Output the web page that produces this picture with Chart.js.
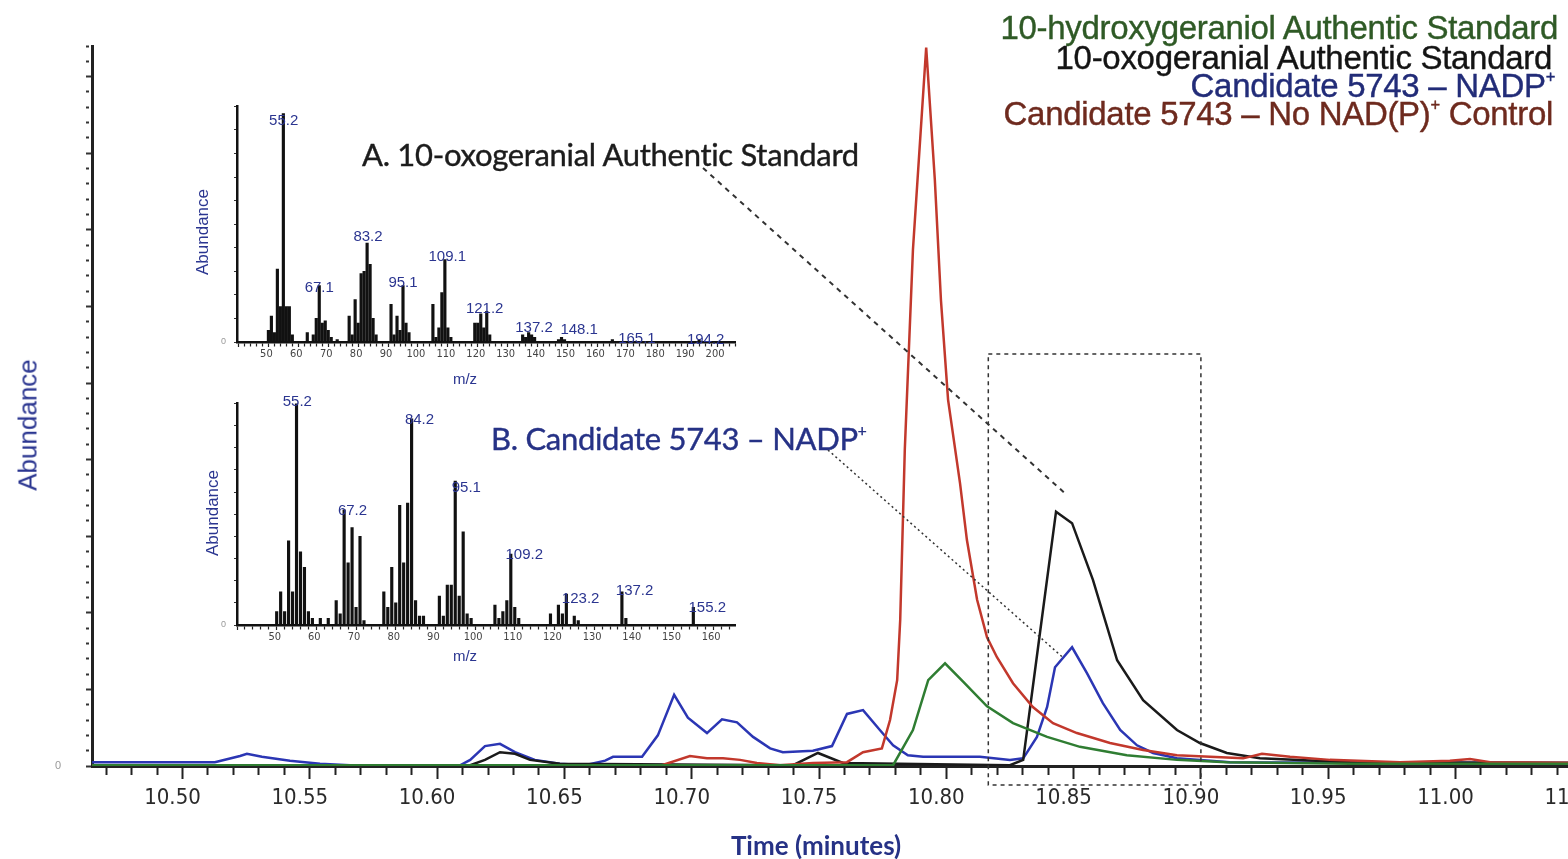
<!DOCTYPE html>
<html>
<head>
<meta charset="utf-8">
<script src="https://cdn.jsdelivr.net/npm/chart.js@4.4.1/dist/chart.umd.min.js"></script>
<style>
  html, body { margin: 0; padding: 0; background: #fff; overflow: hidden; }
  #wrap { position: relative; width: 1568px; height: 859px; overflow: hidden; background: #fff; }
  canvas { position: absolute; }
  .t { position: absolute; white-space: nowrap; line-height: 1; }
  .c { transform: translate(-50%, -50%); }
  .l { transform: translateY(-50%); }
  .r { transform: translate(-100%, -50%); }
  .rot { transform: translate(-50%, -50%) rotate(-90deg); }
  .legend { font-family: "Liberation Sans", Arial, sans-serif; font-size: 33px; letter-spacing: -0.3px; -webkit-text-stroke: 0.4px; }
  .note { font-family: Lato, sans-serif; font-size: 31px; letter-spacing: -0.3px; -webkit-text-stroke: 0.4px; }
  sup { font-size: 0.5em; vertical-align: 0.85em; }
</style>
</head>
<body>
<div id="wrap">
  <canvas id="main" width="1620" height="859" style="left:0;top:0"></canvas>
  <canvas id="specA" width="575" height="300" style="left:180px;top:93px"></canvas>
  <canvas id="specB" width="575" height="280" style="left:180px;top:390px"></canvas>

  <div class="t r legend" style="left:1558px;top:27px;color:#2f5a26">10-hydroxygeraniol Authentic Standard</div>
  <div class="t r legend" style="left:1552px;top:57px;color:#141414">10-oxogeranial Authentic Standard</div>
  <div class="t r legend" style="left:1555px;top:85px;color:#222c78">Candidate 5743 – NADP<sup>+</sup></div>
  <div class="t r legend" style="left:1553px;top:113px;color:#6e2a1e">Candidate 5743 – No NAD(P)<sup>+</sup> Control</div>

  <div class="t l note" style="left:362px;top:154px;color:#1c1c1c">A. 10-oxogeranial Authentic Standard</div>
  <div class="t l note" style="left:491px;top:438px;color:#263286">B. Candidate 5743 – NADP<sup>+</sup></div>

  <div class="t rot" style="left:28px;top:425px;font:26px 'Liberation Sans', Arial, sans-serif;color:#2a3590">Abundance</div>
  <div class="t c" style="left:816px;top:845px;font:bold 26px Lato, sans-serif;color:#263286">Time (minutes)</div>

  <div class="t rot" style="left:203px;top:232px;font:17px 'Liberation Sans', Arial, sans-serif;color:#2a3590">Abundance</div>
  <div class="t rot" style="left:213px;top:513px;font:17px 'Liberation Sans', Arial, sans-serif;color:#2a3590">Abundance</div>
  <div class="t c" style="left:465px;top:378px;font:15px 'Liberation Sans', Arial, sans-serif;color:#2a3590">m/z</div>
  <div class="t c" style="left:465px;top:655px;font:15px 'Liberation Sans', Arial, sans-serif;color:#2a3590">m/z</div>
</div>

<script>
// chromatograms (time in minutes, abundance in arbitrary units)
const greenTime = [10.4645, 10.7791, 10.7869, 10.7929, 10.7995, 10.8066, 10.816, 10.8262, 10.8396, 10.8525, 10.8709, 10.8906, 10.9102, 10.9585, 11.0568];
const greenAbund = [0.01, 0.01, 0.47, 1.12, 1.34, 1.10, 0.78, 0.56, 0.38, 0.25, 0.14, 0.08, 0.05, 0.03, 0.03];

const blackTime = [10.4645, 10.613, 10.6188, 10.6247, 10.6306, 10.6365, 10.6482, 10.7398, 10.7496, 10.7594, 10.825, 10.8302, 10.8368, 10.8431, 10.8494, 10.8576, 10.8671, 10.8773, 10.8906, 10.8996, 10.9102, 10.9232, 10.9585, 11.0568];
const blackAbund = [0.01, 0.01, 0.08, 0.18, 0.16, 0.08, 0.03, 0.01, 0.17, 0.04, 0.01, 0.08, 1.74, 3.32, 3.17, 2.43, 1.38, 0.86, 0.47, 0.30, 0.17, 0.10, 0.05, 0.04];

const blueTime = [10.4645, 10.5127, 10.5226, 10.5253, 10.5312, 10.5422, 10.554, 10.5658, 10.609, 10.613, 10.6188, 10.6247, 10.6306, 10.6384, 10.6482, 10.6581, 10.666, 10.6691, 10.6805, 10.6867, 10.6931, 10.6985, 10.706, 10.7119, 10.7178, 10.7241, 10.7308, 10.7358, 10.7476, 10.7551, 10.761, 10.7673, 10.7739, 10.7791, 10.7849, 10.7909, 10.8132, 10.825, 10.8302, 10.8356, 10.8396, 10.8427, 10.8494, 10.8553, 10.8615, 10.8683, 10.8749, 10.8812, 10.8906, 10.9114, 11.0568];
const blueAbund = [0.05, 0.05, 0.13, 0.16, 0.12, 0.07, 0.03, 0.01, 0.01, 0.08, 0.26, 0.29, 0.18, 0.08, 0.03, 0.01, 0.07, 0.12, 0.12, 0.40, 0.93, 0.63, 0.43, 0.61, 0.57, 0.38, 0.23, 0.18, 0.20, 0.26, 0.68, 0.73, 0.47, 0.27, 0.14, 0.12, 0.12, 0.08, 0.10, 0.38, 0.77, 1.29, 1.55, 1.21, 0.82, 0.47, 0.27, 0.17, 0.10, 0.05, 0.04];

const redTime = [10.4645, 10.6883, 10.6993, 10.706, 10.7123, 10.719, 10.7256, 10.7347, 10.7476, 10.761, 10.7673, 10.7747, 10.7779, 10.7807, 10.7819, 10.7837, 10.7869, 10.7921, 10.7955, 10.7979, 10.8007, 10.8054, 10.8081, 10.8121, 10.816, 10.8199, 10.8262, 10.834, 10.8419, 10.8513, 10.8643, 10.8773, 10.8906, 10.9036, 10.9166, 10.924, 10.935, 10.9507, 10.9782, 10.9978, 11.0057, 11.0136, 11.0568];
const redAbund = [0.01, 0.01, 0.13, 0.10, 0.10, 0.08, 0.04, 0.01, 0.04, 0.05, 0.18, 0.23, 0.60, 1.12, 1.91, 4.13, 6.74, 9.38, 7.65, 6.08, 4.78, 3.69, 2.95, 2.17, 1.68, 1.42, 1.08, 0.77, 0.56, 0.43, 0.30, 0.21, 0.14, 0.12, 0.10, 0.16, 0.12, 0.08, 0.05, 0.07, 0.09, 0.05, 0.04];

// mass spectra (m/z, relative abundance %)
const specAmz = [50, 51, 52, 53, 54, 55, 56, 57, 58, 63, 65, 66, 67, 68, 69, 70, 71, 73, 77, 78, 79, 80, 81, 82, 83, 84, 85, 86, 91, 92, 93, 94, 95, 96, 97, 105, 106, 107, 108, 109, 110, 111, 119, 120, 121, 122, 123, 124, 135, 136, 137, 138, 139, 147, 148, 149, 165, 194];
const specAabund = [5, 11, 4, 31, 15, 97, 15, 15, 3, 4, 3, 10, 24, 8, 9, 5, 2, 1, 11, 3, 18, 8, 29, 30, 42, 33, 10, 3, 16, 3, 11, 5, 24, 8, 4, 16, 2, 6, 21, 35, 6, 2, 8, 8, 12, 6, 13, 3, 3, 2, 4, 3, 2, 1, 2, 1, 1, 1];
const specAlabels = ['55.2', '67.1', '83.2', '95.1', '109.1', '121.2', '137.2', '148.1', '165.1', '194.2'];
const specAlabelX = [55.1, 67, 83.3, 95, 109.8, 122.3, 138.8, 153.9, 173.2, 196.2];
const specAlabelY = [94, 23, 44.5, 25, 36, 14, 6, 5, 1.5, 1];

const specBmz = [50, 51, 52, 53, 54, 55, 56, 57, 58, 59, 61, 63, 65, 66, 67, 68, 69, 70, 71, 72, 77, 78, 79, 80, 81, 82, 83, 84, 85, 86, 87, 91, 92, 93, 94, 95, 96, 97, 98, 99, 105, 106, 107, 108, 109, 110, 111, 119, 121, 122, 123, 125, 126, 137, 138, 155];
const specBabund = [6, 15, 6, 38, 15, 100, 33, 26, 6, 3, 3, 3, 11, 5, 52, 28, 44, 8, 40, 2, 15, 8, 26, 10, 54, 28, 55, 93, 11, 4, 4, 13, 4, 18, 18, 65, 13, 42, 5, 3, 9, 3, 6, 11, 32, 8, 3, 5, 9, 5, 14, 4, 2, 15, 3, 8];
const specBlabels = ['55.2', '67.2', '84.2', '95.1', '109.2', '123.2', '137.2', '155.2'];
const specBlabelX = [55.2, 69.1, 86, 97.8, 112.4, 126.6, 140.2, 158.5];
const specBlabelY = [100.5, 51.5, 92.6, 62, 31.5, 12, 15.4, 7.7];

// zoom box and leader lines on the chromatogram
const boxStart = 10.8165, boxEnd = 10.90, boxTop = 5.38;
const leaderA = { from: [703, 168], to: [10.8473, 3.54] };
const leaderB = { from: [828, 450], to: [10.8457, 1.42] };

const narrow = '"Liberation Sans Narrow", "DejaVu Sans Condensed", "Liberation Sans", Arial, sans-serif';
Chart.defaults.font.family = '"Liberation Sans", Arial, sans-serif';
Chart.defaults.animation = false;

const pts = (xs, ys) => xs.map((x, i) => ({ x: x, y: ys[i] }));
const near = (v, step) => Math.abs(v / step - Math.round(v / step)) < 1e-6;

const overlays = {
    id: 'overlays',
    afterDatasetsDraw(chart) {
        const { ctx, scales: { x, y } } = chart;
        ctx.save();
        ctx.strokeStyle = '#333';
        ctx.lineWidth = 1.5;
        ctx.setLineDash([4, 4]);
        const l = x.getPixelForValue(boxStart), r = x.getPixelForValue(boxEnd);
        const t = y.getPixelForValue(boxTop), b = y.bottom + 19;
        ctx.strokeRect(l, t, r - l, b - t);
        ctx.lineWidth = 2;
        ctx.setLineDash([5, 5]);
        ctx.beginPath();
        ctx.moveTo(leaderA.from[0], leaderA.from[1]);
        ctx.lineTo(x.getPixelForValue(leaderA.to[0]), y.getPixelForValue(leaderA.to[1]));
        ctx.stroke();
        ctx.lineWidth = 1.5;
        ctx.setLineDash([2, 3]);
        ctx.beginPath();
        ctx.moveTo(leaderB.from[0], leaderB.from[1]);
        ctx.lineTo(x.getPixelForValue(leaderB.to[0]), y.getPixelForValue(leaderB.to[1]));
        ctx.stroke();
        ctx.restore();
    }
};

const line = (label, xs, ys, color) => ({
    label: label, data: pts(xs, ys), borderColor: color, borderWidth: 2.5,
    pointRadius: 0, tension: 0, fill: false
});

new Chart(document.getElementById('main'), {
    type: 'line',
    data: {
        datasets: [
            line('10-hydroxygeraniol Authentic Standard', greenTime, greenAbund, '#2f7d32'),
            line('Candidate 5743 – No NAD(P)+ Control', redTime, redAbund, '#c2382c'),
            line('10-oxogeranial Authentic Standard', blackTime, blackAbund, '#1a1a1a'),
            line('Candidate 5743 – NADP+', blueTime, blueAbund, '#2b36b4')
        ]
    },
    options: {
        responsive: false,
        events: [],
        layout: { padding: { top: 46, right: 20, left: 0, bottom: 0 } },
        plugins: { legend: { display: false }, tooltip: { enabled: false } },
        scales: {
            x: {
                type: 'linear', min: 10.46445, max: 11.05676,
                afterFit: s => { s.height = 93; },
                border: { color: '#222', width: 3 },
                grid: {
                    drawOnChartArea: false, tickLength: 13, tickWidth: 2, tickColor: '#222',
                    tickBorderDash: c => (c.tick && !near(c.tick.value, 0.05)) ? [7, 30] : []
                },
                ticks: {
                    stepSize: 0.01, autoSkip: false, maxRotation: 0, includeBounds: false,
                    padding: 6, labelOffset: -10, color: '#2a2a2a', font: { size: 22, family: narrow },
                    callback: v => near(v, 0.05) ? v.toFixed(2) : ''
                }
            },
            y: {
                min: 0, max: 9.4,
                afterFit: s => { s.width = 92; },
                border: { color: '#222', width: 3 },
                grid: {
                    drawOnChartArea: false, tickLength: 6, tickWidth: 2, tickColor: '#333',
                    tickBorderDash: c => (c.tick && !near(c.tick.value, 1)) ? [3, 30] : []
                },
                ticks: {
                    stepSize: 0.2, autoSkip: false, padding: 25, color: '#999', font: { size: 11 },
                    callback: v => Math.abs(v) < 1e-9 ? '0' : ''
                }
            }
        }
    },
    plugins: [overlays]
});

const peakLabels = {
    id: 'peakLabels',
    afterDatasetsDraw(chart, args, opts) {
        const { ctx, scales: { x, y } } = chart;
        ctx.save();
        ctx.font = '15px "Liberation Sans", Arial, sans-serif';
        ctx.fillStyle = '#2b3590';
        ctx.textAlign = 'center';
        ctx.textBaseline = 'middle';
        opts.text.forEach((t, i) => ctx.fillText(t, x.getPixelForValue(opts.xs[i]), y.getPixelForValue(opts.ys[i])));
        ctx.restore();
    }
};

function spectrum(id, mz, abund, xmin, xmax, xAxisHeight, labels, lx, ly) {
    return new Chart(document.getElementById(id), {
        type: 'bar',
        data: { datasets: [{ data: pts(mz, abund), backgroundColor: '#111', barThickness: 2.5 }] },
        options: {
            responsive: false,
            events: [],
            layout: { padding: { top: 10, right: 20, left: 0, bottom: 0 } },
            plugins: {
                legend: { display: false }, tooltip: { enabled: false },
                peakLabels: { text: labels, xs: lx, ys: ly }
            },
            scales: {
                x: {
                    type: 'linear', min: xmin, max: xmax, offset: false,
                    afterFit: s => { s.height = xAxisHeight; },
                    border: { color: '#111', width: 2.5 },
                    grid: {
                        offset: false, drawOnChartArea: false, tickLength: 5, tickWidth: 1.2, tickColor: '#222',
                        tickBorderDash: c => (c.tick && !near(c.tick.value, 10)) ? [3, 20] : []
                    },
                    ticks: {
                        stepSize: 2, autoSkip: false, maxRotation: 0, includeBounds: false,
                        padding: 1, labelOffset: -2, color: '#444', font: { size: 11, family: narrow },
                        callback: v => (near(v, 10) && v >= 50) ? String(Math.round(v)) : ''
                    }
                },
                y: {
                    min: 0, max: 100,
                    afterFit: s => { s.width = 57; },
                    border: { color: '#111', width: 2.5 },
                    grid: { drawOnChartArea: false, tickLength: 3, tickWidth: 1.2, tickColor: '#333' },
                    ticks: {
                        stepSize: 10, autoSkip: false, padding: 8, color: '#999', font: { size: 9 },
                        callback: v => v === 0 ? '0' : ''
                    }
                }
            }
        },
        plugins: [peakLabels]
    });
}

spectrum('specA', specAmz, specAabund, 39.5, 206, 51, specAlabels, specAlabelX, specAlabelY);
spectrum('specB', specBmz, specBabund, 40, 165.5, 45, specBlabels, specBlabelX, specBlabelY);
</script>
</body>
</html>
